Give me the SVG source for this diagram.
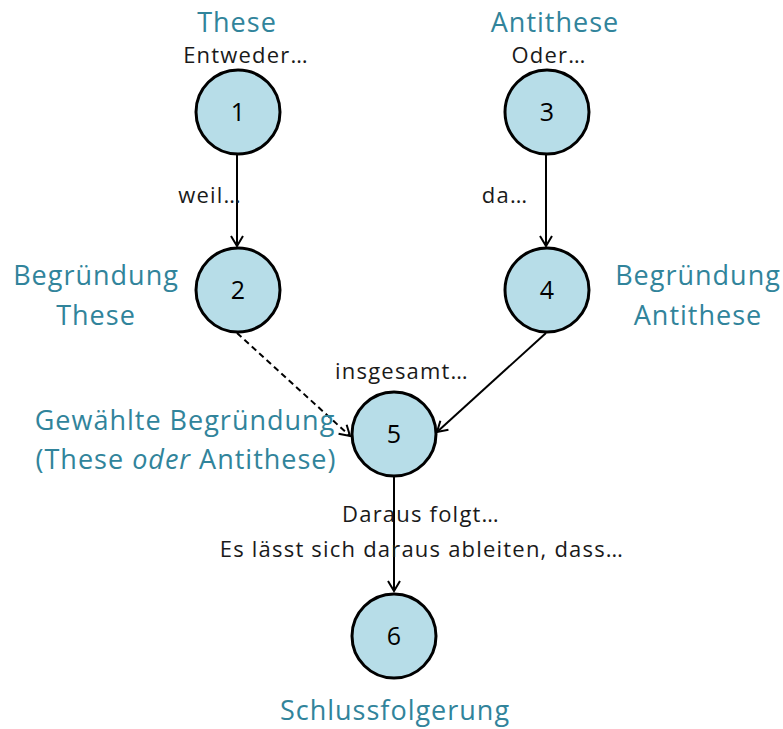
<svg xmlns="http://www.w3.org/2000/svg" width="783" height="729" viewBox="0 0 783 729">
<style>
.n{fill:#B7DDE8;stroke:#000;stroke-width:3}
.num{font-family:"Open Sans",sans-serif;font-size:25px;fill:#000;text-anchor:middle}
.t{font-family:"Open Sans",sans-serif;font-size:27px;fill:#31849B;text-anchor:middle;letter-spacing:1px}
.l{font-family:"Open Sans",sans-serif;font-size:22px;fill:#1a1a1a;text-anchor:middle;letter-spacing:1.2px}
.c{fill:none;stroke:#000;stroke-width:2}
</style>
<defs>
<marker id="a" markerWidth="14" markerHeight="14" refX="12" refY="7" orient="auto" markerUnits="userSpaceOnUse">
<path d="M2,1 L12,7 L2,13" fill="none" stroke="#000" stroke-width="2"/>
</marker>
</defs>
<rect width="783" height="729" fill="#fff"/>
<g id="connectors">
<line class="c" x1="237" y1="155" x2="237" y2="246" marker-end="url(#a)"/>
<line class="c" x1="546" y1="155" x2="546" y2="246" marker-end="url(#a)"/>
<line class="c" x1="237" y1="333" x2="350" y2="436" stroke-dasharray="6,4" marker-end="url(#a)"/>
<line class="c" x1="546" y1="333" x2="437" y2="432" marker-end="url(#a)"/>
<line class="c" x1="394" y1="476" x2="394" y2="591" marker-end="url(#a)"/>
</g>
<g id="labels">
<text class="l" x="246" y="63">Entweder…</text>
<text class="l" x="549" y="63">Oder…</text>
<text class="l" x="210" y="203">weil…</text>
<text class="l" x="505" y="203">da…</text>
<text class="l" x="402" y="379">insgesamt…</text>
<text class="l" x="421" y="522">Daraus folgt…</text>
<text class="l" x="422" y="557">Es lässt sich daraus ableiten, dass…</text>
</g>
<g id="n1"><circle class="n" cx="238" cy="112" r="42"/><text class="num" x="238" y="121">1</text><text class="t" x="237" y="32">These</text></g>
<g id="n2"><circle class="n" cx="238" cy="290" r="42"/><text class="num" x="238" y="299">2</text><text class="t" x="96" y="285">Begründung</text><text class="t" x="96" y="325">These</text></g>
<g id="n3"><circle class="n" cx="547" cy="112" r="42"/><text class="num" x="547" y="121">3</text><text class="t" x="555" y="32">Antithese</text></g>
<g id="n4"><circle class="n" cx="547" cy="290" r="42"/><text class="num" x="547" y="299">4</text><text class="t" x="698" y="285">Begründung</text><text class="t" x="698" y="325">Antithese</text></g>
<g id="n5"><circle class="n" cx="394" cy="434" r="42"/><text class="num" x="394" y="443">5</text><text class="t" x="185" y="430">Gewählte Begründung</text><text class="t" x="186" y="469">(These <tspan font-style="italic">oder</tspan> Antithese)</text></g>
<g id="n6"><circle class="n" cx="394" cy="636" r="42"/><text class="num" x="394" y="645">6</text><text class="t" x="395" y="720">Schlussfolgerung</text></g>
</svg>
